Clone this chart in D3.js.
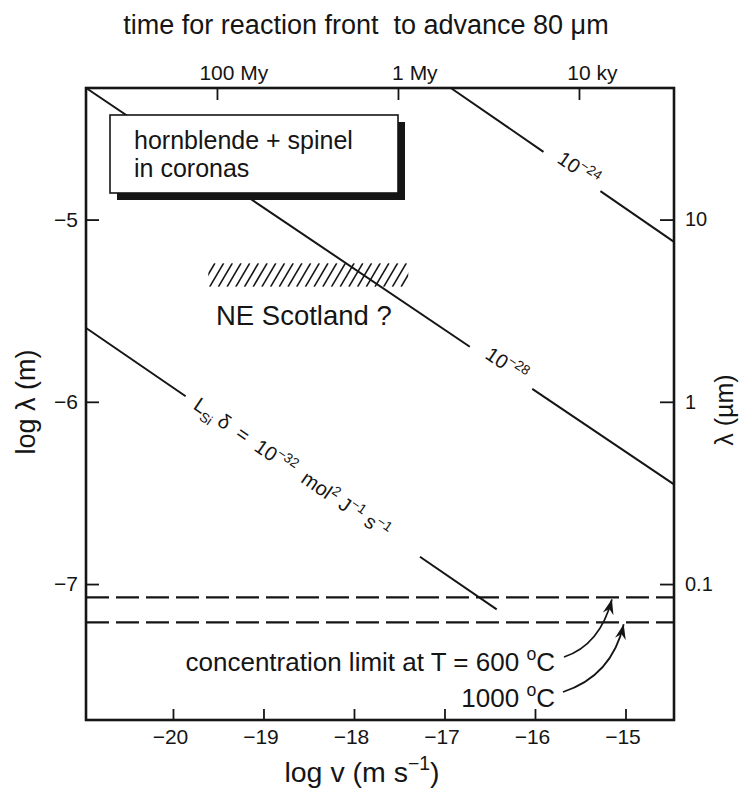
<!DOCTYPE html>
<html><head><meta charset="utf-8">
<script src="https://cdn.jsdelivr.net/npm/d3@7"></script>
<style>
body{margin:0;background:#fff;}
svg text{font-family:"Liberation Sans",Arial,Helvetica,sans-serif;fill:#151515;white-space:pre;}
</style></head><body>
<svg id="c" width="744" height="789"></svg>
<script>
// ---------------- data ----------------
const xTicks = [-20, -19, -18, -17, -16, -15];          // log v (m s^-1)
const yTicks = [-5, -6, -7];                            // log λ (m)
const rightTickLabels = ["10", "1", "0.1"];             // λ (µm) at log λ = -5, -6, -7
const topTickValues = [-19.514, -17.514, -15.514];      // log v where front advances 80 µm in t
const topTickNumbers = ["100", "1", "10"];
const topTickUnits = [" My", " My", " ky"];
const lineExponents = ["−24", "−28", "−32"];            // L_Si δ = 10^exp
const lineStartLogV = [-16.93, -20.96, -20.96];
const lineStartLogL = [-4.278, -4.278, -5.595];
const lineEndLogV = [-14.464, -14.464, -16.423];
const lineEndLogL = [-5.122, -6.453, -7.139];
const gapStartLogV = [-15.906, -16.72, -19.86];
const gapEndLogV = [-15.277, -16.03, -17.271];
const limitTemps = ["600", "1000"];                     // °C
const limitLogL = [-7.073, -7.210];
const arrowTipLogV = [-15.15, -15.02];
const hatchLogV = [-19.61, -17.40];
const hatchLogL = [-5.239, -5.369];
const xDomain = [-20.961, -14.464];
const yDomain = [-4.278, -7.746];

// ---------------- layout ----------------
const svg = d3.select("#c");
const M = {l: 86, r: 674, t: 88, b: 720};
const x = d3.scaleLinear().domain(xDomain).range([M.l, M.r]);
const y = d3.scaleLinear().domain(yDomain).range([M.t, M.b]);
const INK = "#151515";

function rich(sel, parts, size) {
  let cur = 0;
  parts.forEach(([s, k]) => {
    const target = k === "sup" ? -0.42 * size : k === "sub" ? 0.28 * size : 0;
    sel.append("tspan").attr("dy", (target - cur).toFixed(2))
      .attr("font-size", k === "n" ? size : size * 0.68).text(s);
    cur = target;
  });
  return sel;
}

// title
svg.append("text").attr("x", 366).attr("y", 34).attr("text-anchor", "middle")
  .attr("font-size", 27).text("time for reaction front  to advance 80 μm");

// hatch (NE Scotland)
const hx0 = x(hatchLogV[0]), hx1 = x(hatchLogV[1]), hy0 = y(hatchLogL[0]), hy1 = y(hatchLogL[1]);
svg.append("defs").append("clipPath").attr("id", "hc").append("rect")
  .attr("x", hx0).attr("y", hy0).attr("width", hx1 - hx0).attr("height", hy1 - hy0);
const hg = svg.append("g").attr("clip-path", "url(#hc)");
hg.selectAll("line").data(d3.range(hx0 - 16, hx1 + 4, 8.7)).join("line")
  .attr("x1", d => d).attr("y1", hy1).attr("x2", d => d + 14).attr("y2", hy0)
  .attr("stroke", INK).attr("stroke-width", 1.6);

// diagonal Lδ lines, with gaps for labels
const lines = lineExponents.map((e, i) => ({
  e, x0: lineStartLogV[i], y0: lineStartLogL[i], x1: lineEndLogV[i], y1: lineEndLogL[i],
  g0: gapStartLogV[i], g1: gapEndLogV[i]
}));
const yOn = (l, v) => l.y0 + (l.y1 - l.y0) * (v - l.x0) / (l.x1 - l.x0);
const lg = svg.append("g");
lines.forEach(l => {
  const segs = [[[l.x0, l.y0], [l.g0, yOn(l, l.g0)]], [[l.g1, yOn(l, l.g1)], [l.x1, l.y1]]];
  lg.append("g").selectAll("line").data(segs).join("line")
    .attr("x1", s => x(s[0][0])).attr("y1", s => y(s[0][1]))
    .attr("x2", s => x(s[1][0])).attr("y2", s => y(s[1][1]))
    .attr("stroke", INK).attr("stroke-width", 2);
});

// dashed concentration limits
svg.append("g").selectAll("line").data(limitLogL).join("line")
  .attr("x1", M.l).attr("x2", M.r).attr("y1", d => y(d)).attr("y2", d => y(d))
  .attr("stroke", INK).attr("stroke-width", 2.2).attr("stroke-dasharray", "23,7");

// line labels
const labelCfg = [
  {at: -15.555, anchor: "middle", dy: 1, size: 20},
  {at: -16.35, anchor: "middle", dy: 1, size: 20},
  {at: -19.75, anchor: "start", dy: 6, size: 20}
];
lines.forEach((l, i) => {
  const c = labelCfg[i];
  const ang = Math.atan2(y(l.y1) - y(l.y0), x(l.x1) - x(l.x0)) * 180 / Math.PI;
  const t = svg.append("text")
    .attr("transform", `translate(${x(c.at)},${y(yOn(l, c.at))}) rotate(${ang})`)
    .attr("text-anchor", c.anchor).attr("y", c.dy);
  if (i < 2) rich(t, [["10", "n"], [l.e, "sup"]], c.size);
  else rich(t, [["L", "n"], ["Si", "sub"], [" δ  =  10", "n"], [l.e, "sup"], ["  mol", "n"], ["2", "sup"],
                [" J", "n"], ["−1", "sup"], [" s", "n"], ["−1", "sup"]], c.size);
});

// hornblende box with shadow
const box = {x: 110, y: 115, w: 288, h: 78};
svg.append("rect").attr("x", box.x + 7).attr("y", box.y + 7).attr("width", box.w).attr("height", box.h).attr("fill", INK);
svg.append("rect").attr("x", box.x).attr("y", box.y).attr("width", box.w).attr("height", box.h)
  .attr("fill", "#fff").attr("stroke", INK).attr("stroke-width", 1.6);
svg.append("text").attr("x", 134).attr("y", 149).attr("font-size", 25).text("hornblende + spinel");
svg.append("text").attr("x", 134).attr("y", 177).attr("font-size", 25).text("in coronas");

// NE Scotland
svg.append("text").attr("x", 216).attr("y", 325).attr("font-size", 27.5).text("NE Scotland ?");

// concentration limit annotation + arrows
const t1 = svg.append("text").attr("x", 555).attr("y", 671).attr("text-anchor", "end");
rich(t1, [["concentration limit at T = " + limitTemps[0] + " ", "n"], ["o", "sup"], ["C", "n"]], 26);
const t2 = svg.append("text").attr("x", 555).attr("y", 707).attr("text-anchor", "end");
rich(t2, [[limitTemps[1] + " ", "n"], ["o", "sup"], ["C", "n"]], 26);

svg.append("defs").append("marker").attr("id", "ah").attr("viewBox", "-15 -7 17 14")
  .attr("refX", 0).attr("refY", 0).attr("markerWidth", 17).attr("markerHeight", 14)
  .attr("markerUnits", "userSpaceOnUse").attr("orient", "auto")
  .append("path").attr("d", "M0,0 L-15,-5.5 L-10,0 L-15,5.5 Z").attr("fill", INK);
const arrowStarts = [[564, 657], [563, 692]];
const arrowCtrl = [[600, 645], [612, 676]];
limitLogL.forEach((v, i) => {
  const tx = x(arrowTipLogV[i]), ty = y(v) + 2;
  const [sx, sy] = arrowStarts[i], [cx, cy] = arrowCtrl[i];
  svg.append("path").attr("d", `M${sx},${sy} Q${cx},${cy} ${tx},${ty}`)
    .attr("fill", "none").attr("stroke", INK).attr("stroke-width", 1.8).attr("marker-end", "url(#ah)");
});

// axes
const fmt = d3.format("d");
const ax = svg.append("g");
ax.append("g").attr("transform", `translate(0,${M.b})`)
  .call(d3.axisBottom(x).tickValues(xTicks).tickSize(-11).tickPadding(9).tickFormat(fmt))
  .selectAll("text").attr("dx", -3);
ax.append("g").attr("transform", `translate(${M.l},0)`)
  .call(d3.axisLeft(y).tickValues(yTicks).tickSize(-13).tickPadding(8).tickFormat(fmt));
ax.append("g").attr("class", "rightAxis").attr("transform", `translate(${M.r},0)`)
  .call(d3.axisRight(y).tickValues(yTicks).tickSize(-14).tickPadding(11).tickFormat((d, i) => rightTickLabels[i]));
ax.append("g").attr("transform", `translate(0,${M.t})`)
  .call(d3.axisTop(x).tickValues(topTickValues).tickSize(-12).tickFormat(""));
ax.selectAll(".domain").remove();
ax.selectAll("g").attr("font-size", null).attr("font-family", null);
ax.selectAll(".tick line").attr("stroke", INK).attr("stroke-width", 1.8);
ax.selectAll(".tick text").attr("fill", INK).attr("font-size", 21);
ax.selectAll(".rightAxis .tick text").attr("font-size", 20);

topTickValues.forEach((v, i) => {
  const t = svg.append("text").attr("y", 80).attr("font-size", 21);
  const n = t.append("tspan").text(topTickNumbers[i]);
  t.append("tspan").text(topTickUnits[i]);
  const w = n.node().getComputedTextLength();
  t.attr("x", x(v) - w / 2);
});

// frame
svg.append("rect").attr("x", M.l).attr("y", M.t).attr("width", M.r - M.l).attr("height", M.b - M.t)
  .attr("fill", "none").attr("stroke", INK).attr("stroke-width", 2.6);

// axis titles
const bt = svg.append("text").attr("x", 362).attr("y", 782).attr("text-anchor", "middle");
rich(bt, [["log v (m s", "n"], ["−1", "sup"], [")", "n"]], 28.5);
svg.append("text").attr("transform", "translate(35,402) rotate(-90)").attr("text-anchor", "middle")
  .attr("font-size", 27).text("log λ (m)");
svg.append("text").attr("transform", "translate(733,410) rotate(-90)").attr("text-anchor", "middle")
  .attr("font-size", 25).text("λ (µm)");
</script></body></html>
